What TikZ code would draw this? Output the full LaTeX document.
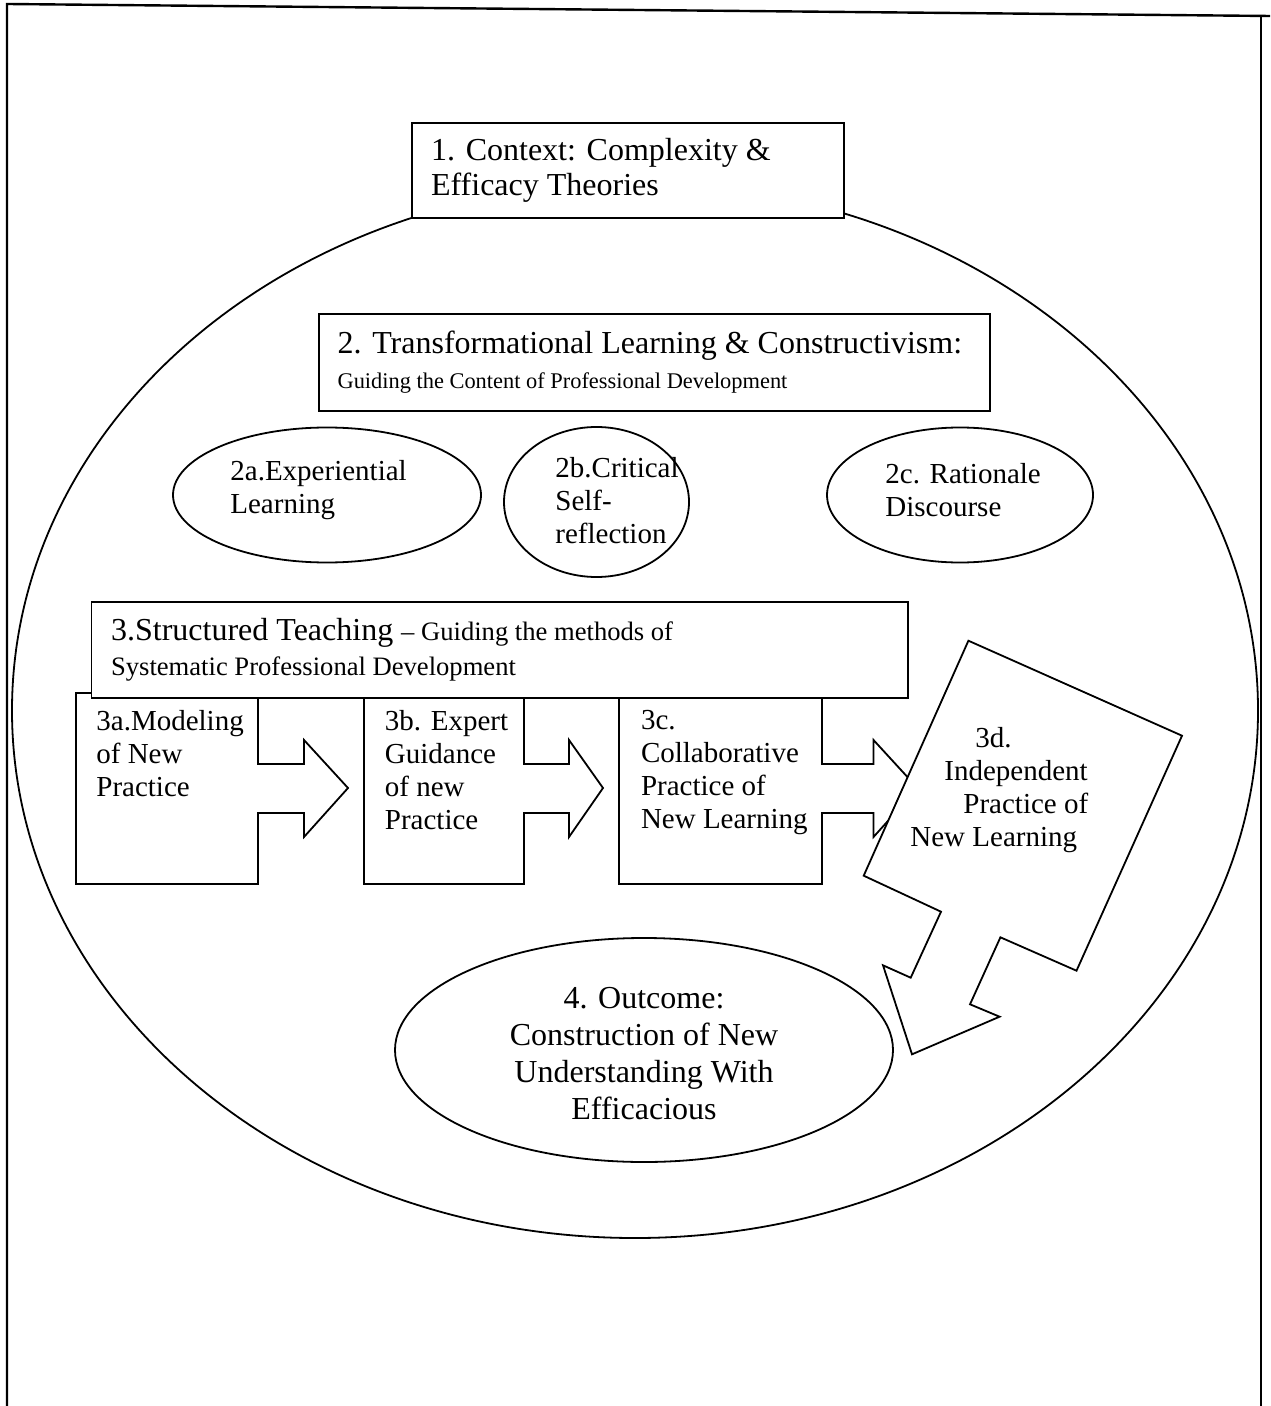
\documentclass[tikz,border=0pt]{standalone}
\usepackage{fontspec}
\setmainfont{Liberation Serif}
\usetikzlibrary{positioning,shapes.geometric}

\newcommand\bigtext{\fontsize{16}{17.5}\selectfont}
\newcommand\steptext{\fontsize{14.5}{16.5}\selectfont}
\newcommand\subtwo{\fontsize{11.2}{12.5}\selectfont}
\newcommand\subthree{\fontsize{13.3}{15}\selectfont}

\begin{document}
\begin{tikzpicture}[x=0.5pt,y=-0.5pt,
  outline/.style={draw=black,line width=0.9pt},
  titlebox/.style={outline,fill=white,rectangle,inner sep=0pt},
  titletext/.style={align=left,inner sep=0pt,font=\bigtext},
  bubble/.style={outline,fill=white,ellipse,inner sep=0pt,font=\steptext},
  bubbletext/.style={anchor=west,align=left,inner sep=0pt,font=\steptext},
  stepbox/.style={outline,fill=white,line join=miter},
  steplab/.style={anchor=north west,inner sep=0pt,align=left,font=\steptext}
]
\useasboundingbox (0,0) rectangle (1270,1406);

% page frame
\draw[line width=1.2pt] (7,1406) -- (7,4) -- (1270,16);
\draw[line width=1.2pt] (1261,16) -- (1261,1406);

% outer ring
\node[bubble,minimum width=623pt,minimum height=527.5pt] (ring) at (635,710.5) {};

% 1. context
\node[titlebox,minimum width=216.1pt,minimum height=47.5pt] (context) at (627.7,170.5) {};
\node[titletext,right=10pt of context.west] (context-txt)
  {1. Context: Complexity \&\\Efficacy Theories};

% 2. transformational learning
\node[titlebox,minimum width=335.65pt,minimum height=48.5pt] (transform) at (654.35,362.5) {};
\node[titletext,right=9.7pt of transform.west] (transform-txt)
  {2. Transformational Learning \& Constructivism:\\
   {\subtwo Guiding the Content of Professional Development}};

\node[bubble,minimum width=154pt,minimum height=67.5pt] (experiential) at (327,495) {};
\node[bubble,minimum width=92.5pt,minimum height=75pt] (critical) at (596.5,502) {};
\node[bubble,minimum width=133pt,minimum height=67.5pt] (discourse) at (960,495) {};
\node[bubbletext] (experiential-txt) at (230,490) {2a.Experiential\\Learning};
\node[bubbletext] (critical-txt) at (555,501) {2b.Critical\\Self-\\reflection};
\node[bubbletext] (discourse-txt) at (885,490) {2c. Rationale\\Discourse};

% 3a-3c step arrows
\draw[stepbox] (76,693) -- (258,693) -- (258,764) -- (304,764) -- (304,740) -- (348,788)
  -- (304,837) -- (304,813) -- (258,813) -- (258,884) -- (76,884) -- cycle;
\draw[stepbox] (364,693) -- (524,693) -- (524,764) -- (569,764) -- (569,740) -- (603,788)
  -- (569,837) -- (569,813) -- (524,813) -- (524,884) -- (364,884) -- cycle;
\draw[stepbox] (619,693) -- (822,693) -- (822,764) -- (873.5,764) -- (873.5,740) -- (917.5,788)
  -- (873.5,837) -- (873.5,813) -- (822,813) -- (822,884) -- (619,884) -- cycle;

\node[steplab] (modeling) at (96,710) {3a.Modeling\\of New\\Practice};
\node[steplab] (guidance) at (384.5,710) {3b. Expert\\Guidance\\of new\\Practice};
\node[steplab] (collab) at (640.6,710) {3c.\\Collaborative\\Practice of\\New Learning};

% 3. structured teaching
\node[titlebox,minimum width=408.15pt,minimum height=48pt] (structured) at (499.55,650) {};
\node[titletext,right=10.1pt of structured.west] (structured-txt)
  {3.Structured Teaching {\subthree -- Guiding the methods of}\\
   {\subthree Systematic Professional Development}};

% 3d tilted arrow
\draw[stepbox] (968.4,640.7) -- (1182,735.7) -- (1076.5,970.7) -- (1000.4,937.3) -- (970,1004.3)
  -- (999.6,1016.7) -- (912,1054.3) -- (883,965.3) -- (910.7,977.7) -- (941,911.7)
  -- (863.7,875.7) -- cycle;
\node[steplab] (independent) at (910,727)
  {\hspace*{32.5pt}3d.\\\hspace*{17pt}Independent\\\hspace*{26.5pt}Practice of\\New Learning};

% 4. outcome
\node[bubble,minimum width=249pt,minimum height=112pt] (outcome) at (644,1050) {};
\node[align=center,inner sep=0pt,font=\fontsize{16}{18.5}\selectfont] (outcome-txt) at (644,1054)
  {4. Outcome:\\Construction of New\\Understanding With\\Efficacious};

\end{tikzpicture}
\end{document}
